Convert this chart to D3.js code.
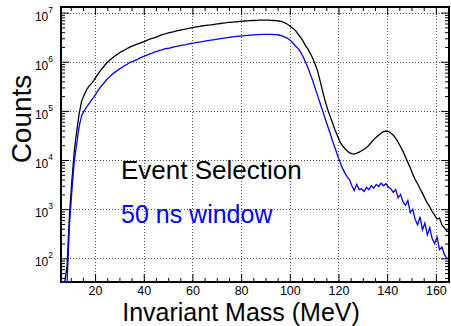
<!DOCTYPE html>
<html lang="en">
<head>
<meta charset="UTF-8">
<title>Invariant Mass</title>
<script src="https://d3js.org/d3.v7.min.js"></script>
<style>
  body { margin: 0; background: #fff; }
  svg text { font-family: "Liberation Sans", Arial, sans-serif; }
  .tick line { stroke: #000; }
  .domain { display: none; }
</style>
</head>
<body>
<div id="chart"></div>
<script>
// 1 MeV bins, first bin starts at 6 MeV
const binLow = 6, binWidth = 1;

// "Event Selection" histogram (black), bins 6..164 MeV
const eventSelection = [
  0, 0, 70, 800, 4000, 1.6e4, 4e4, 9e4, 1.6e5, 2.1e5,
  2.7e5, 3.2e5, 3.6e5, 4.2e5, 5.0e5, 5.9e5, 6.9e5, 7.9e5, 9.1e5, 1.02e6,
  1.12e6, 1.23e6, 1.35e6, 1.45e6, 1.58e6, 1.66e6, 1.78e6, 1.9e6, 2.0e6, 2.1e6,
  2.2e6, 2.3e6, 2.4e6, 2.5e6, 2.6e6, 2.75e6, 2.9e6, 3.0e6, 3.1e6, 3.2e6,
  3.4e6, 3.55e6, 3.65e6, 3.8e6, 3.9e6, 4.0e6, 4.1e6, 4.25e6, 4.35e6, 4.45e6,
  4.55e6, 4.65e6, 4.8e6, 4.9e6, 5.0e6, 5.1e6, 5.2e6, 5.3e6, 5.4e6, 5.5e6,
  5.55e6, 5.6e6, 5.7e6, 5.8e6, 5.9e6, 6.0e6, 6.1e6, 6.15e6, 6.3e6, 6.3e6,
  6.4e6, 6.45e6, 6.5e6, 6.6e6, 6.7e6, 6.75e6, 6.8e6, 6.85e6, 6.9e6, 6.9e6,
  6.95e6, 7.0e6, 7.0e6, 7.0e6, 7.0e6, 7.0e6, 6.95e6, 6.9e6, 6.85e6, 6.75e6,
  6.6e6, 6.3e6, 6.0e6, 5.6e6, 5.1e6, 4.7e6, 4.2e6, 3.6e6, 3.1e6, 2.6e6,
  2.1e6, 1.8e6, 1.45e6, 1.15e6, 8.7e5, 6.3e5, 4.0e5, 2.5e5, 1.6e5, 1.1e5,
  7.9e4, 5.8e4, 4.2e4, 3.2e4, 2.4e4, 2.0e4, 1.74e4, 1.55e4, 1.4e4, 1.35e4,
  1.32e4, 1.38e4, 1.45e4, 1.55e4, 1.66e4, 1.8e4, 2.0e4, 2.3e4, 2.6e4, 2.9e4,
  3.2e4, 3.5e4, 3.8e4, 3.9e4, 3.8e4, 3.55e4, 3.2e4, 2.75e4, 2.3e4, 1.86e4,
  1.5e4, 1.15e4, 8900, 6900, 5200, 4000, 3300, 2600, 2100, 1660,
  1320, 1120, 890, 760, 630, 660, 480, 420, 355
];

// "50 ns window" histogram (blue), bins 6..164 MeV
const window50ns = [
  0, 0, 0, 500, 2500, 1.0e4, 2.2e4, 5.0e4, 8.0e4, 1.0e5,
  1.2e5, 1.4e5, 1.66e5, 1.9e5, 2.3e5, 2.7e5, 3.2e5, 3.6e5, 4.2e5, 4.7e5,
  5.2e5, 5.8e5, 6.3e5, 6.9e5, 7.4e5, 7.9e5, 8.5e5, 9.1e5, 9.8e5, 1.02e6,
  1.07e6, 1.12e6, 1.2e6, 1.26e6, 1.32e6, 1.38e6, 1.45e6, 1.5e6, 1.58e6, 1.62e6,
  1.7e6, 1.74e6, 1.82e6, 1.86e6, 1.9e6, 1.95e6, 2.0e6, 2.05e6, 2.1e6, 2.15e6,
  2.2e6, 2.24e6, 2.3e6, 2.35e6, 2.4e6, 2.45e6, 2.5e6, 2.55e6, 2.6e6, 2.65e6,
  2.7e6, 2.75e6, 2.8e6, 2.85e6, 2.9e6, 2.95e6, 3.0e6, 3.05e6, 3.1e6, 3.15e6,
  3.2e6, 3.25e6, 3.3e6, 3.33e6, 3.37e6, 3.4e6, 3.45e6, 3.48e6, 3.5e6, 3.53e6,
  3.55e6, 3.57e6, 3.6e6, 3.6e6, 3.62e6, 3.6e6, 3.6e6, 3.58e6, 3.55e6, 3.5e6,
  3.4e6, 3.25e6, 3.1e6, 2.9e6, 2.65e6, 2.35e6, 2.05e6, 1.85e6, 1.55e6, 1.25e6,
  9.8e5, 7.5e5, 5.4e5, 4.0e5, 2.8e5, 2.0e5, 1.4e5, 1.0e5, 7.0e4, 5.0e4,
  3.6e4, 2.5e4, 1.8e4, 1.3e4, 9500, 7000, 5600, 4600, 4000, 3000,
  2400, 3200, 2500, 2600, 2300, 2800, 2500, 3000, 2700, 3200,
  2900, 3400, 3000, 3300, 2800, 2600, 2200, 2500, 1700, 2000,
  1400, 1200, 1500, 850, 1000, 620, 480, 700, 380, 520,
  300, 420, 250, 200, 270, 150, 170, 120, 100
];

const xMajorTicks = [20, 40, 60, 80, 100, 120, 140, 160];
const yDecades = [2, 3, 4, 5, 6, 7];

const width = 451, height = 326;
const plot = { left: 61, right: 449, top: 7, bottom: 282 };

const x = d3.scaleLinear().domain([6, 165.4]).range([plot.left, plot.right]);
const y = d3.scaleLog().domain([33, 1.3e7]).range([plot.bottom, plot.top]);

const svg = d3.select("#chart").append("svg")
    .attr("width", width)
    .attr("height", height);

// grid
const grid = svg.append("g")
    .attr("stroke", "#555")
    .attr("stroke-width", 1)
    .attr("stroke-dasharray", "1,2");
xMajorTicks.forEach(t => {
  grid.append("line")
      .attr("x1", Math.round(x(t)) + 0.5).attr("x2", Math.round(x(t)) + 0.5)
      .attr("y1", plot.top).attr("y2", plot.bottom);
});
yDecades.forEach(e => {
  grid.append("line")
      .attr("y1", Math.round(y(Math.pow(10, e))) + 0.5).attr("y2", Math.round(y(Math.pow(10, e))) + 0.5)
      .attr("x1", plot.left).attr("x2", plot.right);
});

// axes (ticks pointing inward)
const xMinor = d3.range(10, 166, 5).filter(v => xMajorTicks.indexOf(v) < 0);
const yMinor = [];
for (let e = 1; e <= 7; e++) {
  for (let k = 2; k <= 9; k++) {
    const v = k * Math.pow(10, e);
    if (v > y.domain()[0] && v < y.domain()[1]) yMinor.push(v);
  }
}
const yMajor = yDecades.map(e => Math.pow(10, e));
const noText = g => g.selectAll("text").remove();

svg.append("g")
    .attr("transform", `translate(0,${plot.bottom})`)
    .call(d3.axisBottom(x).tickValues(xMajorTicks).tickSize(-8).tickPadding(4).tickFormat(d3.format("d")))
    .call(g => g.selectAll("text").attr("font-size", 12.5).attr("fill", "#000").attr("font-family", null));
svg.append("g")
    .attr("transform", `translate(0,${plot.bottom})`)
    .call(d3.axisBottom(x).tickValues(xMinor).tickSize(-4)).call(noText);
svg.append("g")
    .attr("transform", `translate(0,${plot.top})`)
    .call(d3.axisTop(x).tickValues(xMajorTicks).tickSize(-8)).call(noText);
svg.append("g")
    .attr("transform", `translate(0,${plot.top})`)
    .call(d3.axisTop(x).tickValues(xMinor).tickSize(-4)).call(noText);

svg.append("g")
    .attr("transform", `translate(${plot.left},0)`)
    .call(d3.axisLeft(y).tickValues(yMajor).tickSize(-8)).call(noText);
svg.append("g")
    .attr("transform", `translate(${plot.left},0)`)
    .call(d3.axisLeft(y).tickValues(yMinor).tickSize(-4)).call(noText);
svg.append("g")
    .attr("transform", `translate(${plot.right},0)`)
    .call(d3.axisRight(y).tickValues(yMajor).tickSize(-8)).call(noText);
svg.append("g")
    .attr("transform", `translate(${plot.right},0)`)
    .call(d3.axisRight(y).tickValues(yMinor).tickSize(-4)).call(noText);

// y tick labels 10^n
const yLab = svg.append("g").attr("fill", "#000");
yDecades.forEach(e => {
  const t = yLab.append("text")
      .attr("x", 53)
      .attr("y", y(Math.pow(10, e)) + 8)
      .attr("text-anchor", "end")
      .attr("font-size", 12);
  t.append("tspan").text("10");
  t.append("tspan").attr("dy", -8).attr("font-size", 8.5).text(e);
});

// frame
svg.append("rect")
    .attr("x", plot.left).attr("y", plot.top)
    .attr("width", plot.right - plot.left)
    .attr("height", plot.bottom - plot.top)
    .attr("fill", "none")
    .attr("stroke", "#000")
    .attr("stroke-width", 2);

// histograms
svg.append("clipPath").attr("id", "clip")
  .append("rect")
    .attr("x", plot.left - 1).attr("y", plot.top)
    .attr("width", plot.right - plot.left + 1)
    .attr("height", plot.bottom - plot.top + 1);

// outline through the bin centres, with the empty bins resting on the axis
function histPoints(vals) {
  const pts = [[binLow, vals[0]]];
  vals.forEach((v, i) => pts.push([binLow + (i + 0.5) * binWidth, v]));
  pts.push([binLow + vals.length * binWidth, vals[vals.length - 1]]);
  return pts;
}
const line = d3.line()
    .x(d => x(d[0]))
    .y(d => y(d[1] > 0 ? Math.max(d[1], y.domain()[0]) : y.domain()[0]))
    .curve(d3.curveLinear);

svg.append("path")
    .datum(histPoints(eventSelection))
    .attr("clip-path", "url(#clip)")
    .attr("fill", "none")
    .attr("stroke", "#000")
    .attr("stroke-width", 1.3)
    .attr("d", line);

svg.append("path")
    .datum(histPoints(window50ns))
    .attr("clip-path", "url(#clip)")
    .attr("fill", "none")
    .attr("stroke", "#0000ff")
    .attr("stroke-width", 1.3)
    .attr("d", line);

// labels
svg.append("text")
    .attr("x", 241).attr("y", 321)
    .attr("text-anchor", "middle")
    .attr("font-size", 25)
    .text("Invariant Mass (MeV)");

svg.append("text")
    .attr("transform", "translate(31,119) rotate(-90)")
    .attr("text-anchor", "middle")
    .attr("font-size", 28)
    .text("Counts");

svg.append("text")
    .attr("x", 121).attr("y", 179)
    .attr("font-size", 26)
    .text("Event Selection");

svg.append("text")
    .attr("x", 121).attr("y", 222.5)
    .attr("font-size", 25)
    .attr("fill", "#0000ff")
    .text("50 ns window");
</script>
</body>
</html>
